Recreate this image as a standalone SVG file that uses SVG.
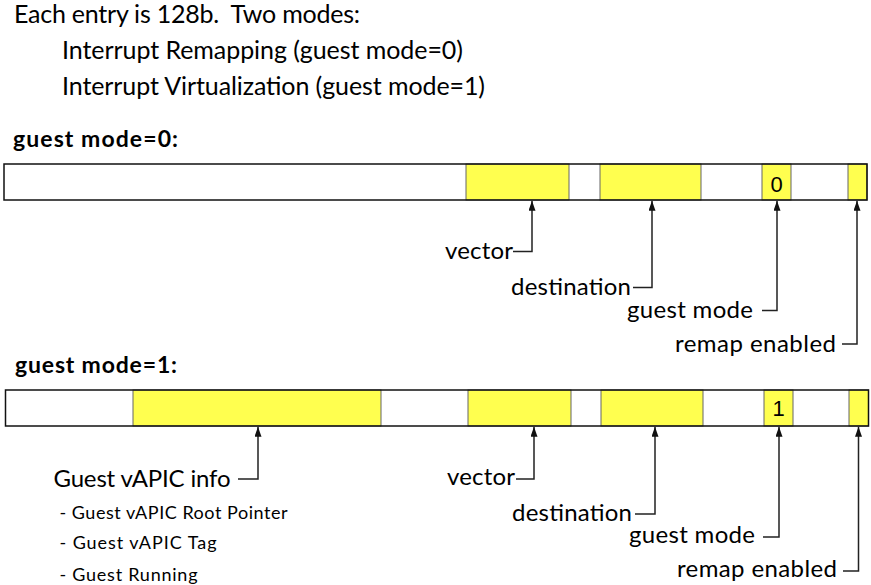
<svg xmlns="http://www.w3.org/2000/svg" width="871" height="585" viewBox="0 0 871 585">
<defs>
<style>
text{font-family:Lato,"Open Sans","Liberation Sans",sans-serif;fill:#000}
.t{font-size:25px}
.h{font-size:23px;font-weight:bold}
.l{font-size:24px}
.s{font-size:18px}
.d{font-family:"Liberation Sans",Arial,sans-serif;font-size:22px;text-anchor:middle}
.bar{fill:#fff;stroke:none}
.cell{fill:#ffff4f;stroke:#666;stroke-width:1}
.out{fill:none;stroke:#111;stroke-width:1.5}
.c{fill:none;stroke:#222;stroke-width:1.5}
</style>
<marker id="ah" viewBox="0 0 10 7" refX="10" refY="3.5" markerWidth="10" markerHeight="7" markerUnits="userSpaceOnUse" orient="auto">
<path d="M0,0 L10,3.5 L0,7 z" fill="#111"/>
</marker>
</defs>

<g id="intro">
<text class="t" x="14" y="23" textLength="346" xml:space="preserve">Each entry is 128b.  Two modes:</text>
<text class="t" x="62" y="58.5" textLength="401">Interrupt Remapping (guest mode=0)</text>
<text class="t" x="62" y="95" textLength="423">Interrupt Virtualization (guest mode=1)</text>
</g>

<g id="heading0"><text class="h" x="13" y="147" textLength="165">guest mode=0:</text></g>
<g id="heading1"><text class="h" x="15" y="373" textLength="162">guest mode=1:</text></g>

<g id="entry0">
<rect class="bar" x="4" y="164" width="863" height="36"/>
<rect class="cell" x="466" y="164" width="103" height="36"/>
<rect class="cell" x="600" y="164" width="101" height="36"/>
<rect class="cell" x="762" y="164" width="29" height="36"/>
<rect class="cell" x="848" y="164" width="19" height="36"/>
<rect class="out" x="4" y="164" width="863" height="36"/>
<text class="d" x="776.5" y="192">0</text>
</g>

<g id="entry1">
<rect class="bar" x="5.5" y="390" width="863" height="36"/>
<rect class="cell" x="133" y="390" width="248" height="36"/>
<rect class="cell" x="468" y="390" width="103" height="36"/>
<rect class="cell" x="601" y="390" width="102" height="36"/>
<rect class="cell" x="764" y="390" width="29" height="36"/>
<rect class="cell" x="849" y="390" width="19.5" height="36"/>
<rect class="out" x="5.5" y="390" width="863" height="36"/>
<text class="d" x="778.5" y="416">1</text>
</g>

<g id="labels0">
<text class="l" x="445" y="259" textLength="68">vector</text>
<text class="l" x="511" y="295" textLength="120">destination</text>
<text class="l" x="627" y="318" textLength="126">guest mode</text>
<text class="l" x="675" y="351.5" textLength="161">remap enabled</text>
</g>

<g id="labels1">
<text class="l" x="53.5" y="486.5" textLength="177">Guest vAPIC info</text>
<text class="s" x="59.5" y="519" textLength="228">- Guest vAPIC Root Pointer</text>
<text class="s" x="59.5" y="549" textLength="157">- Guest vAPIC Tag</text>
<text class="s" x="59.5" y="580.5" textLength="138">- Guest Running</text>
<text class="l" x="447" y="485" textLength="68">vector</text>
<text class="l" x="512" y="520.5" textLength="120">destination</text>
<text class="l" x="629" y="543" textLength="126">guest mode</text>
<text class="l" x="677" y="577" textLength="160">remap enabled</text>
</g>

<g id="connectors">
<path class="c" marker-end="url(#ah)" d="M513,251.5 H532 V200.8"/>
<path class="c" marker-end="url(#ah)" d="M633,287.5 H652 V200.8"/>
<path class="c" marker-end="url(#ah)" d="M762,310.5 H777 V200.8"/>
<path class="c" marker-end="url(#ah)" d="M842,344 H857 V200.8"/>
<path class="c" marker-end="url(#ah)" d="M238,479 H258 V426.8"/>
<path class="c" marker-end="url(#ah)" d="M516,479 H534 V426.8"/>
<path class="c" marker-end="url(#ah)" d="M635,514 H655 V426.8"/>
<path class="c" marker-end="url(#ah)" d="M763,537 H779 V426.8"/>
<path class="c" marker-end="url(#ah)" d="M843,571 H858.5 V426.8"/>
</g>
</svg>
